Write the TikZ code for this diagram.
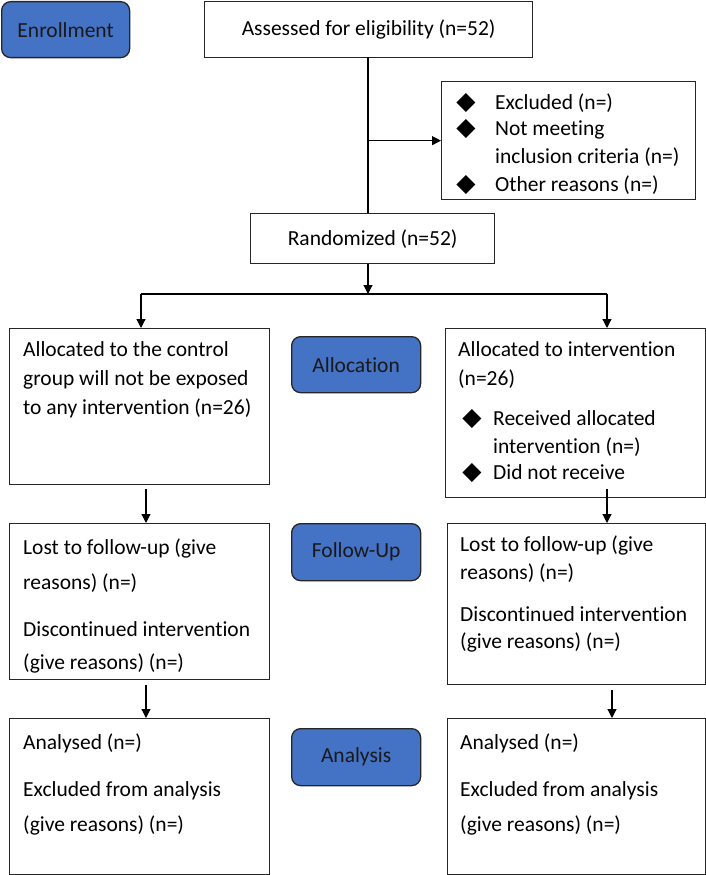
\documentclass[tikz,border=0pt]{standalone}
\usepackage{fontspec}
\setmainfont[Ligatures=NoCommon]{Carlito}
\newfontfamily\djv{DejaVu Sans}
\usetikzlibrary{arrows.meta,calc}
\definecolor{boxblue}{HTML}{4472C4}
\definecolor{boxedge}{HTML}{262626}
\newcommand\myfs{\fontsize{21.5}{26}\selectfont}
\newcommand\bulfs{\djv\fontsize{25}{28}\selectfont}
\begin{document}
\begin{tikzpicture}[x=1pt,y=-1pt,
  box/.style={draw=black!85, line width=1.3pt, fill=white, anchor=north west, inner sep=0pt, font=\myfs},
  phase/.style={draw=boxedge, line width=1.3pt, fill=boxblue, rounded corners=9pt, anchor=north west, inner sep=0pt, font=\myfs, text=black!90},
  txt/.style={anchor=base west, inner sep=0pt, font=\myfs},
  bul/.style={anchor=center, inner sep=0pt, font=\bulfs},
  arr/.style={line width=1.2pt, -{Triangle[length=9pt,width=9pt]}},
  ln/.style={line width=1.2pt}]
\useasboundingbox (0,0) rectangle (706,875);

% phase labels
\node[phase, minimum width=128pt, minimum height=56pt] (enr) at (1,1) {Enrollment};
\node[phase, minimum width=129pt, minimum height=56pt] (allocB) at (291,336) {Allocation};
\node[phase, minimum width=129pt, minimum height=57pt] (fuB) at (291,523) {Follow-Up};
\node[phase, minimum width=129pt, minimum height=57pt] (anB) at (291,728) {Analysis};

% top boxes
\node[box, minimum width=328pt, minimum height=56pt] (assess) at (204,1) {Assessed for eligibility (n=52)};
\node[box, minimum width=254pt, minimum height=118pt] (excl) at (441,81) {};
\node[box, minimum width=244pt, minimum height=50pt] (rand) at (250,213) {Randomized (n=52)};

% excluded contents
\node[bul] (b1) at (466,103) {◆};
\node[bul] (b2) at (466,129) {◆};
\node[bul] (b3) at (466,185) {◆};
\node[txt] (e1) at (495,109.5) {Excluded (n=)};
\node[txt] (e2) at (495,135.5) {Not meeting};
\node[txt] (e3) at (495,163.5) {inclusion criteria (n=)};
\node[txt] (e4) at (495,191.5) {Other reasons (n=)};

% allocation row
\node[box, minimum width=260pt, minimum height=156pt] (allocL) at (9,328) {};
\node[box, minimum width=260pt, minimum height=169pt] (allocR) at (445,328) {};
\node[txt] (l1) at (23,356.5) {Allocated to the control};
\node[txt] (l2) at (23,385.5) {group will not be exposed};
\node[txt] (l3) at (23,414.5) {to any intervention (n=26)};
\node[txt] (r1) at (458,356.5) {Allocated to intervention};
\node[txt] (r2) at (458,385.5) {(n=26)};
\node[bul] (b4) at (472,419) {◆};
\node[bul] (b5) at (472,473) {◆};
\node[txt] (r3) at (493,425.5) {Received allocated};
\node[txt] (r4) at (493,453.5) {intervention (n=)};
\node[txt] (r5) at (493,479.5) {Did not receive};

% follow-up row
\node[box, minimum width=260pt, minimum height=156pt] (fuL) at (9,523) {};
\node[box, minimum width=258pt, minimum height=161pt] (fuR) at (447,523) {};
\node[txt] (f1) at (23,554.5) {Lost to follow-up (give};
\node[txt] (f2) at (23,589.5) {reasons) (n=)};
\node[txt] (f3) at (23,636.5) {Discontinued intervention};
\node[txt] (f4) at (23,669.5) {(give reasons) (n=)};
\node[txt] (g1) at (460,551.5) {Lost to follow-up (give};
\node[txt] (g2) at (460,579.5) {reasons) (n=)};
\node[txt] (g3) at (460,621.5) {Discontinued intervention};
\node[txt] (g4) at (460,648.5) {(give reasons) (n=)};

% analysis row
\node[box, minimum width=260pt, minimum height=156pt] (anL) at (9,718) {};
\node[box, minimum width=258pt, minimum height=156pt] (anR) at (447,718) {};
\node[txt] (h1) at (23,749.5) {Analysed (n=)};
\node[txt] (h2) at (23,796.5) {Excluded from analysis};
\node[txt] (h3) at (23,831.5) {(give reasons) (n=)};
\node[txt] (k1) at (460,749.5) {Analysed (n=)};
\node[txt] (k2) at (460,796.5) {Excluded from analysis};
\node[txt] (k3) at (460,831.5) {(give reasons) (n=)};

% connectors
\coordinate (trunk) at (368,57);
\draw[ln] (trunk) -- (trunk |- rand.north);
\draw[arr] (trunk |- excl.west) -- (excl.west);
\coordinate (split) at (368,294);
\draw[arr] (split |- rand.south) -- (split);
\coordinate (sl) at (141,294);
\coordinate (sr) at (607,294);
\draw[ln] (sl) -- (sr);
\draw[arr] (sl) -- (sl |- allocL.north);
\draw[arr] (sr) -- (sr |- allocR.north);
\coordinate (a1) at (146,489);
\coordinate (a2) at (607,489);
\coordinate (a3) at (146,685);
\coordinate (a4) at (612,690);
\draw[arr] (a1) -- (a1 |- fuL.north);
\draw[arr] (a2) -- (a2 |- fuR.north);
\draw[arr] (a3) -- (a3 |- anL.north);
\draw[arr] (a4) -- (a4 |- anR.north);
\end{tikzpicture}
\end{document}
